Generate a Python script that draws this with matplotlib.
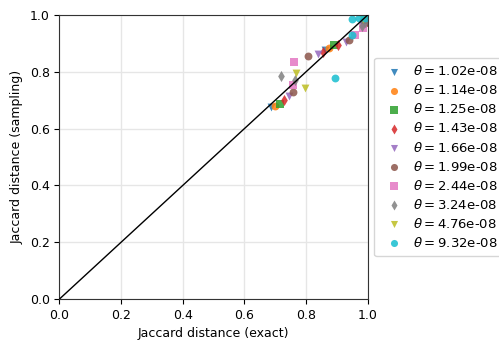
import matplotlib
matplotlib.use('Agg')
import matplotlib.pyplot as plt
import numpy as np

thetas = ['1.02e-08', '1.14e-08', '1.25e-08', '1.43e-08', '1.66e-08',
          '1.99e-08', '2.44e-08', '3.24e-08', '4.76e-08', '9.32e-08']
markers = ['v', 'o', 's', 'd', 'v', 'o', 's', 'd', 'v', 'o']

# exact vs sampling jaccard distance for each theta
x_exact = [
    [0.686, 0.860, 0.985],
    [0.700, 0.875, 0.990],
    [0.715, 0.890, 0.992],
    [0.730, 0.855, 0.905, 0.995],
    [0.745, 0.840, 0.930, 0.980],
    [0.758, 0.805, 0.940, 0.990],
    [0.758, 0.760, 0.960, 0.985],
    [0.720, 0.765, 0.980, 0.992],
    [0.768, 0.797, 0.985],
    [0.895, 0.950, 0.950, 0.970, 0.990],
]
y_sampling = [
    [0.675, 0.875, 0.975],
    [0.680, 0.885, 0.980],
    [0.685, 0.895, 0.985],
    [0.700, 0.870, 0.895, 0.975],
    [0.715, 0.862, 0.905, 0.965],
    [0.730, 0.857, 0.910, 0.970],
    [0.755, 0.835, 0.930, 0.955],
    [0.785, 0.770, 0.960, 0.975],
    [0.797, 0.743, 0.985],
    [0.778, 0.930, 0.985, 0.990, 0.990],
]

fig = plt.figure(figsize=(4.99, 3.47), dpi=100)
ax = fig.add_axes([0.119, 0.138, 0.618, 0.819])

for th, m, xs, ys in zip(thetas, markers, x_exact, y_sampling):
    ax.scatter(xs, ys, marker=m, s=32, alpha=0.85, linewidths=0,
               label=r'$\theta = $' + th, zorder=2)

ax.plot([0, 1], [0, 1], color='black', lw=1, zorder=3)

ax.set_xlim(0, 1)
ax.set_ylim(0, 1)
ax.set_xticks(np.arange(0, 1.01, 0.2))
ax.set_yticks(np.arange(0, 1.01, 0.2))
ax.grid(True, color='#e6e6e6', lw=1)
ax.set_axisbelow(True)
for sp in ax.spines.values():
    sp.set_color('#333333')
ax.tick_params(labelsize=9)

ax.set_xlabel('Jaccard distance (exact)', fontsize=9)
ax.set_ylabel('Jaccard distance (sampling)', fontsize=9)

ax.legend(loc='center left', bbox_to_anchor=(1.0, 0.5), fontsize=9.5,
          markerscale=0.9, handletextpad=0.4, borderpad=0.5,
          labelspacing=0.38)

fig.savefig('out.png', dpi=100)
